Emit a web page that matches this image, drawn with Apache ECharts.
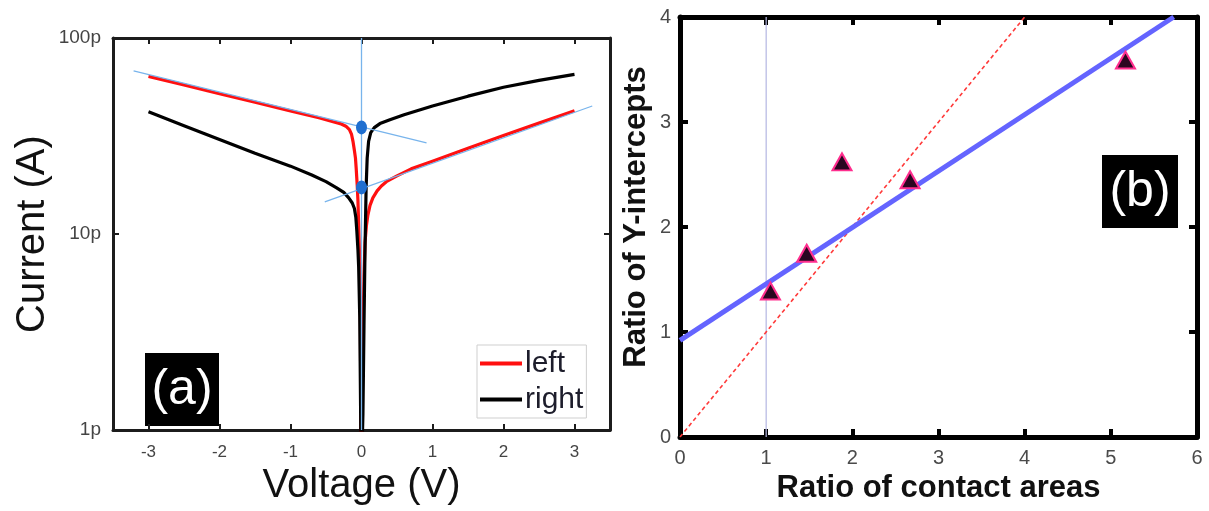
<!DOCTYPE html>
<html>
<head>
<meta charset="utf-8">
<title>I-V curves and Y-intercept ratios</title>
<script src="https://cdn.jsdelivr.net/npm/echarts@6/dist/echarts.min.js"></script>
<style>
  html, body { margin: 0; padding: 0; background: #fff; }
  #chart { width: 1209px; height: 511px; }
</style>
</head>
<body>
<div id="chart"></div>
<script>
// ---- Panel (a): current-voltage sweeps, current in pA ----
const leftV = [-3.0, -2.5, -2.0, -1.5, -1.0, -0.6, -0.4, -0.3, -0.22, -0.17, -0.14, -0.12, -0.1, -0.085, -0.075, -0.06, -0.05, -0.03, -0.015, -0.006,
               0.004, 0.01, 0.02, 0.035, 0.05, 0.07, 0.09, 0.12, 0.16, 0.22, 0.28, 0.35, 0.5, 0.7, 1.0, 1.5, 2.0, 2.5, 3.0];
const leftI = [63.7, 57.7, 52.0, 47.1, 42.5, 39.2, 37.4, 36.6, 35.5, 34.1, 32.2, 29.7, 26.7, 24.4, 21.7, 17.6, 14.8, 8.3, 3.4, 0.5,
               0.5, 1.2, 3.0, 6.1, 9.1, 11.1, 12.5, 14.0, 15.3, 16.6, 17.6, 18.5, 19.8, 21.5, 23.5, 27.4, 31.8, 36.8, 42.5];

const rightV = [-3.0, -2.5, -2.0, -1.5, -1.0, -0.7, -0.5, -0.35, -0.25, -0.18, -0.13, -0.1, -0.08, -0.066, -0.05, -0.04, -0.025, -0.012, -0.006,
                0.012, 0.02, 0.035, 0.05, 0.065, 0.08, 0.1, 0.13, 0.18, 0.26, 0.4, 0.6, 1.0, 1.5, 2.0, 2.5, 3.0];
const rightI = [42.0, 35.7, 30.4, 25.8, 22.2, 20.0, 18.5, 17.2, 16.3, 15.3, 14.4, 13.5, 12.2, 10.4, 8.3, 6.8, 3.8, 1.2, 0.5,
                0.5, 1.2, 3.4, 8.6, 17.2, 24.4, 29.7, 32.9, 34.9, 36.6, 38.3, 40.6, 45.0, 50.5, 56.1, 60.8, 65.2];

// straight-line fits (in log-current) and their zero-bias intercepts
const fitNegV = [-3.21, 0.916];
const fitNegI = [68, 29.2];
const fitPosV = [-0.517, 3.25];
const fitPosI = [14.6, 45];
const zeroV = [0, 0];
const zeroI = [1, 100];
const interceptV = [0, 0];
const interceptI = [35, 17.3];

const currentTicks = ['1p', '10p', '100p'];

// ---- Panel (b): intercept ratio vs contact-area ratio ----
const areaRatio = [1.05, 1.47, 1.88, 2.67, 5.17];
const interceptRatio = [1.39, 1.75, 2.62, 2.45, 3.59];
const fitX = [0, 5.73];
const fitY = [0.92, 4];
const unityX = [0, 4];
const unityY = [0, 4];
const refX = [1, 1];
const refY = [0, 4];

const zip = (a, b) => a.map((v, i) => [v, b[i]]);
const FONT = '"Liberation Sans", Arial, Helvetica, sans-serif';

const chart = echarts.init(document.getElementById('chart'), null, { renderer: 'canvas' });

const leftBox = { color: '#1c1c1c', width: 3 };
const rightBox = { color: '#000', width: 5 };

const option = {
  animation: false,
  backgroundColor: '#fff',
  textStyle: { fontFamily: FONT },
  grid: [
    { left: 113, top: 38, width: 497, height: 398 },
    { left: 680, top: 17, width: 517, height: 420 }
  ],
  legend: {
    data: ['left', 'right'],
    orient: 'vertical',
    left: 477,
    top: 345,
    padding: [2, 3, 2, 3],
    itemGap: 3,
    itemWidth: 42,
    itemHeight: 4,
    icon: 'rect',
    backgroundColor: '#fff',
    borderColor: '#cfcfcf',
    borderWidth: 1,
    borderRadius: 0,
    textStyle: { fontFamily: FONT, fontSize: 30, lineHeight: 33, color: '#1d1d2b', padding: [0, 0, 0, -2] }
  },
  xAxis: [
    {
      gridIndex: 0, type: 'value', min: -3.5, max: 3.5, splitNumber: 7, position: 'bottom',
      axisLine: { show: true, onZero: false, lineStyle: leftBox },
      axisTick: { show: true, inside: true, length: 6, lineStyle: { color: '#1c1c1c', width: 2 } },
      axisLabel: {
        formatter: v => (Math.abs(v - Math.round(v)) < 1e-9 ? String(Math.round(v)) : ''),
        fontSize: 17, color: '#444', margin: 14, fontFamily: FONT
      },
      splitLine: { show: false },
      name: 'Voltage (V)', nameLocation: 'middle', nameGap: 30,
      nameTextStyle: { fontSize: 40, color: '#111', fontFamily: FONT }
    },
    {
      gridIndex: 0, type: 'value', min: -3.5, max: 3.5, splitNumber: 7, position: 'top',
      axisLine: { show: true, onZero: false, lineStyle: leftBox },
      axisTick: { show: true, inside: true, length: 6, lineStyle: { color: '#1c1c1c', width: 2 } },
      axisLabel: { show: false },
      splitLine: { show: false }
    },
    {
      gridIndex: 1, type: 'value', min: 0, max: 6, interval: 1, position: 'bottom',
      axisLine: { show: true, onZero: false, lineStyle: rightBox },
      axisTick: { show: true, inside: true, length: 8, lineStyle: { color: '#000', width: 4 } },
      axisLabel: { fontSize: 20, color: '#4a4a4a', margin: 11, fontFamily: FONT },
      splitLine: { show: false },
      name: 'Ratio of contact areas', nameLocation: 'middle', nameGap: 30,
      nameTextStyle: { fontSize: 31, fontWeight: 'bold', color: '#111', fontFamily: FONT }
    },
    {
      gridIndex: 1, type: 'value', min: 0, max: 6, interval: 1, position: 'top',
      axisLine: { show: true, onZero: false, lineStyle: rightBox },
      axisTick: { show: true, inside: true, length: 8, lineStyle: { color: '#000', width: 4 } },
      axisLabel: { show: false },
      splitLine: { show: false }
    }
  ],
  yAxis: [
    {
      gridIndex: 0, type: 'log', logBase: 10, min: 1, max: 100, position: 'left',
      axisLine: { show: true, onZero: false, lineStyle: leftBox },
      axisTick: { show: true, inside: true, length: 6, lineStyle: { color: '#1c1c1c', width: 2 } },
      axisLabel: {
        formatter: v => currentTicks[Math.round(Math.log10(v))],
        fontSize: 19, color: '#444', margin: 12, fontFamily: FONT
      },
      minorTick: { show: false },
      splitLine: { show: false },
      name: 'Current (A)', nameLocation: 'middle', nameGap: 60,
      nameTextStyle: { fontSize: 40, color: '#111', fontFamily: FONT }
    },
    {
      gridIndex: 0, type: 'log', logBase: 10, min: 1, max: 100, position: 'right',
      axisLine: { show: true, onZero: false, lineStyle: leftBox },
      axisTick: { show: true, inside: true, length: 6, lineStyle: { color: '#1c1c1c', width: 2 } },
      axisLabel: { show: false },
      splitLine: { show: false }
    },
    {
      gridIndex: 1, type: 'value', min: 0, max: 4, interval: 1, position: 'left',
      axisLine: { show: true, onZero: false, lineStyle: rightBox },
      axisTick: { show: true, inside: true, length: 8, lineStyle: { color: '#000', width: 4 } },
      axisLabel: { fontSize: 20, color: '#4a4a4a', margin: 9, fontFamily: FONT },
      splitLine: { show: false },
      name: 'Ratio of Y-intercepts', nameLocation: 'middle', nameGap: 28,
      nameTextStyle: { fontSize: 31, fontWeight: 'bold', color: '#111', fontFamily: FONT, padding: [0, 0, 0, 20] }
    },
    {
      gridIndex: 1, type: 'value', min: 0, max: 4, interval: 1, position: 'right',
      axisLine: { show: true, onZero: false, lineStyle: rightBox },
      axisTick: { show: true, inside: true, length: 8, lineStyle: { color: '#000', width: 4 } },
      axisLabel: { show: false },
      splitLine: { show: false }
    }
  ],
  series: [
    {
      name: 'left', type: 'line', xAxisIndex: 0, yAxisIndex: 0,
      data: zip(leftV, leftI), symbol: 'none', showSymbol: false,
      lineStyle: { color: '#ff1010', width: 3.2, join: 'round' }, itemStyle: { color: '#ff1010' }, z: 3
    },
    {
      name: 'right', type: 'line', xAxisIndex: 0, yAxisIndex: 0,
      data: zip(rightV, rightI), symbol: 'none', showSymbol: false,
      lineStyle: { color: '#000', width: 3.2, join: 'round' }, itemStyle: { color: '#000' }, z: 4
    },
    {
      name: 'fit (negative bias)', type: 'line', xAxisIndex: 0, yAxisIndex: 0,
      data: zip(fitNegV, fitNegI), symbol: 'none',
      lineStyle: { color: '#78b4ec', width: 1.3 }, z: 5
    },
    {
      name: 'fit (positive bias)', type: 'line', xAxisIndex: 0, yAxisIndex: 0,
      data: zip(fitPosV, fitPosI), symbol: 'none',
      lineStyle: { color: '#78b4ec', width: 1.3 }, z: 5
    },
    {
      name: 'zero bias', type: 'line', xAxisIndex: 0, yAxisIndex: 0,
      data: zip(zeroV, zeroI), symbol: 'none',
      lineStyle: { color: '#78b4ec', width: 1.3 }, z: 5
    },
    {
      name: 'intercepts', type: 'scatter', xAxisIndex: 0, yAxisIndex: 0,
      data: zip(interceptV, interceptI), symbol: 'circle', symbolSize: [11, 14],
      itemStyle: { color: '#1f6fd0', opacity: 1 }, z: 6
    },
    {
      name: 'x = 1', type: 'line', xAxisIndex: 2, yAxisIndex: 2,
      data: zip(refX, refY), symbol: 'none',
      lineStyle: { color: '#b4b6e2', width: 1.2 }, z: 2
    },
    {
      name: 'y = x', type: 'line', xAxisIndex: 2, yAxisIndex: 2,
      data: zip(unityX, unityY), symbol: 'none',
      lineStyle: { color: '#ff3a3a', width: 1.6, type: [4, 3] }, z: 3
    },
    {
      name: 'linear fit', type: 'line', xAxisIndex: 2, yAxisIndex: 2,
      data: zip(fitX, fitY), symbol: 'none',
      lineStyle: { color: '#6464ff', width: 5 }, z: 4
    },
    {
      name: 'measured', type: 'scatter', xAxisIndex: 2, yAxisIndex: 2,
      data: zip(areaRatio, interceptRatio), symbol: 'triangle', symbolSize: [19, 17],
      itemStyle: { color: '#2a0620', borderColor: '#ff2e8e', borderWidth: 2, opacity: 1 }, z: 6
    }
  ],
  graphic: [
    {
      type: 'group', left: 145, top: 353,
      children: [
        { type: 'rect', shape: { x: 0, y: 0, width: 74, height: 73 }, style: { fill: '#000' } },
        { type: 'text', x: 37, y: 37, style: { text: '(a)', fill: '#fff', font: '50px ' + FONT, align: 'center', verticalAlign: 'middle' } }
      ]
    },
    {
      type: 'group', left: 1102, top: 155,
      children: [
        { type: 'rect', shape: { x: 0, y: 0, width: 76, height: 73 }, style: { fill: '#000' } },
        { type: 'text', x: 38, y: 37, style: { text: '(b)', fill: '#fff', font: '50px ' + FONT, align: 'center', verticalAlign: 'middle' } }
      ]
    }
  ]
};

chart.setOption(option);
</script>
</body>
</html>
